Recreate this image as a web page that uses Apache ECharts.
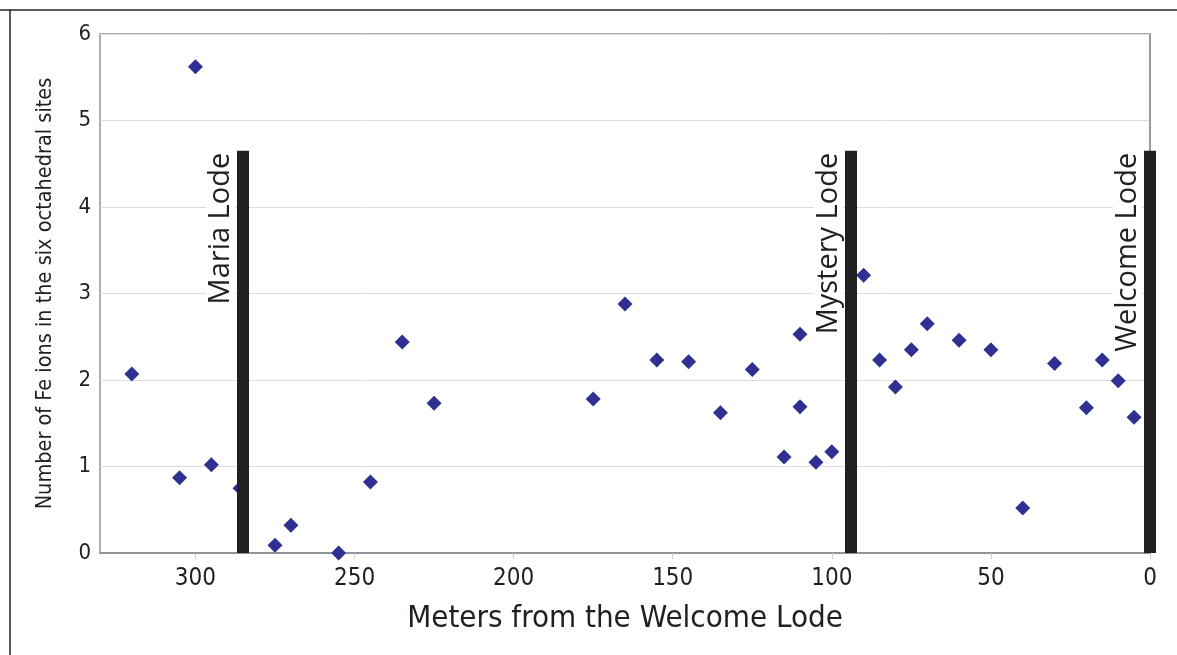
<!DOCTYPE html>
<html>
<head>
<meta charset="utf-8">
<script src="https://cdn.jsdelivr.net/npm/echarts@6/dist/echarts.min.js"></script>
<style>
  html, body { margin: 0; padding: 0; background: #fff; }
  #chart { width: 1177px; height: 655px; }
</style>
</head>
<body>
<div id="chart"></div>
<script>
// distance from the Welcome Lode (m) and Fe ions per site
var meters = [320, 300, 305, 295, 286, 275, 270, 255, 245, 235, 225,
  175, 165, 155, 145, 135, 125, 115, 110, 110, 105, 100,
  90, 85, 80, 75, 70, 60, 50, 40, 30, 20, 15, 10, 5];
var feIons = [2.07, 5.62, 0.87, 1.02, 0.75, 0.09, 0.32, 0.0, 0.82, 2.44, 1.73,
  1.78, 2.88, 2.23, 2.21, 1.62, 2.12, 1.11, 2.53, 1.69, 1.05, 1.17,
  3.21, 2.23, 1.92, 2.35, 2.65, 2.46, 2.35, 0.52, 2.19, 1.68, 2.23, 1.99, 1.57];

// lode positions and bar height
var lodeNames = ['Maria Lode', 'Mystery Lode', 'Welcome Lode'];
var lodeMeters = [285, 94, 0];
var lodeTop = 4.65;

var narrow = '"Liberation Sans Narrow", "DejaVu Sans Condensed", sans-serif';

var chart = echarts.init(document.getElementById('chart'));

var lodeLines = lodeNames.map(function (name, i) {
  return [
    { coord: [lodeMeters[i], 0], name: name },
    { coord: [lodeMeters[i], lodeTop] }
  ];
});

chart.setOption({
  animation: false,
  grid: {
    left: 100, right: 27, top: 34, bottom: 102,
    show: true, borderColor: '#8f959c', borderWidth: 1.5
  },
  graphic: [
    { type: 'line', shape: { x1: 0, y1: 10, x2: 1177, y2: 10 }, style: { stroke: '#222', lineWidth: 1.5 } },
    { type: 'line', shape: { x1: 10, y1: 10, x2: 10, y2: 655 }, style: { stroke: '#222', lineWidth: 1.5 } }
  ],
  xAxis: {
    type: 'value',
    inverse: true,
    min: 0, max: 330, interval: 50,
    name: 'Meters from the Welcome Lode',
    nameLocation: 'middle',
    nameGap: 50,
    nameTextStyle: { fontFamily: narrow, fontSize: 31, color: '#231f20' },
    axisLine: { lineStyle: { color: '#8f959c', width: 2 } },
    axisTick: { show: true, length: 6, lineStyle: { color: '#c8ccd0' } },
    axisLabel: { fontFamily: narrow, fontSize: 24, color: '#231f20', margin: 14, showMaxLabel: false },
    splitLine: { show: false }
  },
  yAxis: {
    type: 'value',
    min: 0, max: 6, interval: 1,
    name: 'Number of Fe ions in the six octahedral sites',
    nameLocation: 'middle',
    nameGap: 44,
    nameTextStyle: { fontFamily: narrow, fontSize: 21.5, color: '#231f20' },
    axisLine: { show: true, lineStyle: { color: '#8f959c', width: 1.5 } },
    axisTick: { show: false },
    axisLabel: { fontFamily: narrow, fontSize: 22, color: '#231f20', margin: 9 },
    splitLine: { lineStyle: { color: '#dcdcdc', width: 1 } }
  },
  series: [{
    type: 'scatter',
    symbol: 'diamond',
    symbolSize: 15,
    itemStyle: { color: '#2e3192', opacity: 1 },
    data: meters.map(function (m, i) { return [m, feIons[i]]; }),
    markLine: {
      silent: true,
      z: 5,
      symbol: ['none', 'none'],
      lineStyle: { color: '#231f20', width: 12, type: 'solid' },
      label: {
        show: true,
        position: 'insideEndTop',
        formatter: '{b}',
        fontFamily: '"Open Sans", sans-serif',
        fontSize: 29,
        color: '#231f20',
        backgroundColor: '#fff',
        padding: [0, 2],
        distance: [0, 8]
      },
      emphasis: { disabled: true },
      data: lodeLines
    }
  }]
});
</script>
</body>
</html>
